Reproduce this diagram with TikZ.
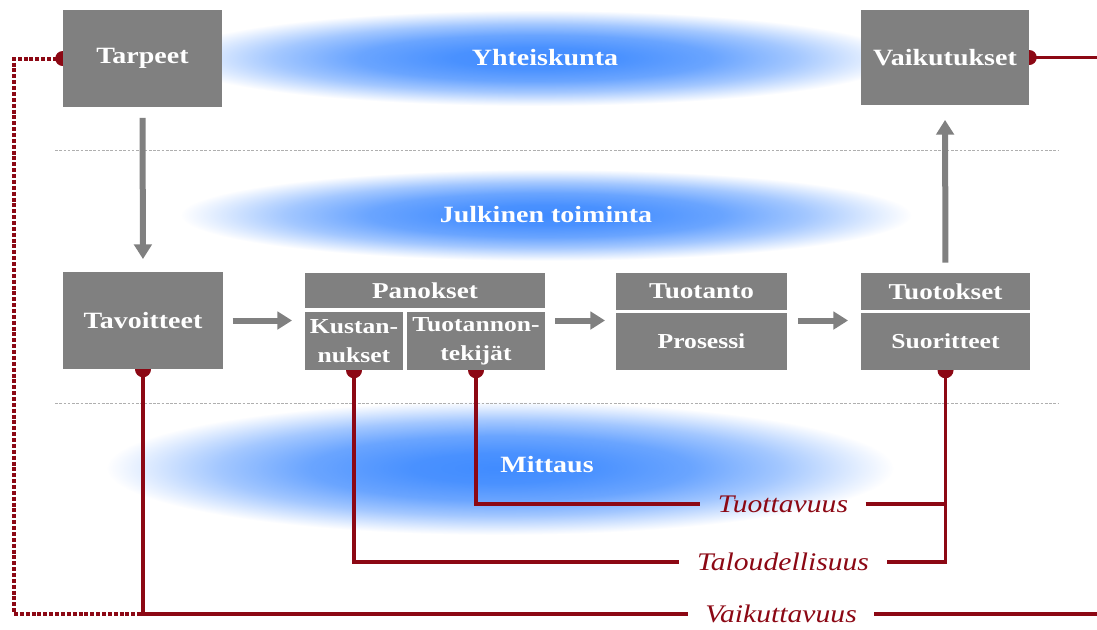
\documentclass[tikz,border=0pt]{standalone}
\usepackage{fontspec}
\setmainfont{Liberation Serif}
\usepackage{graphicx}
\usetikzlibrary{fit,arrows.meta,fadings}
\definecolor{boxgray}{RGB}{128,128,128}
\definecolor{dred}{RGB}{140,8,20}
\definecolor{glow}{RGB}{65,140,255}
\definecolor{sepgray}{RGB}{175,175,175}
\pgfdeclareradialshading{glowmaskshade}{\pgfpointorigin}{color(0bp)=(pgftransparent!0); color(4bp)=(pgftransparent!5); color(8.5bp)=(pgftransparent!22); color(12.5bp)=(pgftransparent!52); color(16bp)=(pgftransparent!86); color(17.5bp)=(pgftransparent!100); color(50bp)=(pgftransparent!100)}
\pgfdeclarefading{glowfade}{\pgfuseshading{glowmaskshade}}
\newcommand{\sx}[1]{\scalebox{1.2}[1]{#1}}
\newcommand{\si}[1]{\scalebox{1.17}[1]{#1}}
\begin{document}
\begin{tikzpicture}[x=0.75pt,y=-0.75pt,
  box/.style={fill=boxgray, draw=none, inner sep=0pt, text=white, align=center,
    font=\bfseries\fontsize{17.5}{19}\selectfont},
  headbox/.style={box, font=\bfseries\fontsize{17}{19}\selectfont},
  subbox/.style={box, font=\bfseries\fontsize{16}{18.5}\selectfont},
  zone/.style={text=white, font=\bfseries\fontsize{17.5}{19}\selectfont},
  meas/.style={text=dred, inner xsep=13pt, inner ysep=2pt, font=\itshape\fontsize{19}{21}\selectfont},
  garrow/.style={draw=boxgray, line width=4.5pt, -{Triangle[length=11pt,width=13pt]}},
  redline/.style={draw=dred, line width=2.4pt},
  dotline/.style={draw=dred, line width=3pt, dash pattern=on 3pt off 1.4pt},
  sep/.style={draw=sepgray, line width=0.7pt, dash pattern=on 2pt off 1.2pt},
  marker/.style={fill=dred}
]
\useasboundingbox (0,0) rectangle (1097,629);
\fill[white] (0,0) rectangle (1097,629);

% blue glows
\fill[glow, path fading=glowfade] (535,58) ellipse [x radius=520, y radius=68];
\fill[glow, path fading=glowfade] (546,215) ellipse [x radius=520, y radius=65];
\fill[glow, path fading=glowfade] (500,468) ellipse [x radius=560, y radius=95];

% separators
\draw[sep] (55,150) -- (1058,150);
\draw[sep] (55,403) -- (1058,403);

% zone labels
\node[zone] (yht) at (545,58) {\sx{Yhteiskunta}};
\node[zone] (jul) at (546,215) {\sx{Julkinen toiminta}};
\node[zone] (mit) at (547,465) {\sx{Mittaus}};

% boxes
\node[box, fit={(63,10) (222,107)}] (tarp) {};
\node[box, fit={(861,10) (1029,105)}] (vaik) {};
\node[box, fit={(63,272) (223,369)}] (tav) {};
\node[headbox, fit={(305,273) (545,308)}] (pan) {};
\node[subbox, fit={(305,312) (403,370)}] (kust) {};
\node[subbox, fit={(407,312) (545,370)}] (ttek) {};
\node[headbox, fit={(616,273) (787,310)}] (tuot) {};
\node[subbox, fit={(616,313) (787,370)}] (pros) {};
\node[headbox, fit={(861,273) (1030,310)}] (tuok) {};
\node[subbox, fit={(861,313) (1030,370)}] (suor) {};

% measurement labels
\node[meas] (tuotv) at (783,504) {\si{Tuottavuus}};
\node[meas] (talo) at (783,562) {\si{Taloudellisuus}};
\node[meas] (vaikt) at (781,614) {\si{Vaikuttavuus}};

\coordinate (lcorner) at (14,614);
\coordinate (redgetop) at (1097,57.5);
\coordinate (redgebot) at (1097,614);

% red connectors
\draw[dotline] (tarp.west) -| (lcorner) -- (vaikt.west);
\draw[redline] (tav.south) |- (vaikt.west);
\draw[redline] (kust.south) |- (talo.west);
\draw[redline] (ttek.south) |- (tuotv.west);
\draw[redline] (suor.south) |- (talo.east);
\draw[redline] (tuotv.east) -- (tuotv.east -| suor.south);
\draw[redline] (vaik.east) -- (redgetop);
\draw[redline] (vaikt.east) -- (redgebot);

% markers (half hidden under boxes)
\fill[marker] (tarp.west) circle [radius=7.5];
\fill[marker] (vaik.east) circle [radius=7.5];
\fill[marker] (tav.south) circle [radius=8];
\fill[marker] (kust.south) circle [radius=8];
\fill[marker] (ttek.south) circle [radius=8];
\fill[marker] (suor.south) circle [radius=8];

% redraw boxes on top of markers
\foreach \n in {tarp,vaik,tav,pan,kust,ttek,tuot,pros,tuok,suor}
  \fill[boxgray] (\n.north west) rectangle (\n.south east);

% box texts
\node[box, fill=none] at (tarp) {\sx{Tarpeet}};
\node[box, fill=none] at (vaik) {\sx{Vaikutukset}};
\node[box, fill=none] at (tav) {\sx{Tavoitteet}};
\node[headbox, fill=none] at (pan) {\sx{Panokset}};
\node[subbox, fill=none] at (kust) {\sx{Kustan-}\\[3pt]\sx{nukset}};
\node[subbox, fill=none] at (ttek) {\sx{Tuotannon-}\\[3pt]\sx{tekijät}};
\node[headbox, fill=none] at (tuot) {\sx{Tuotanto}};
\node[subbox, fill=none] at (pros) {\sx{Prosessi}};
\node[headbox, fill=none] at (tuok) {\sx{Tuotokset}};
\node[subbox, fill=none] at (suor) {\sx{Suoritteet}};

% gray arrows
\draw[garrow, shorten <=8pt, shorten >=9.5pt] (tarp.south) -- (tav.north);
\draw[garrow, shorten <=7pt, shorten >=9.5pt] (tav.east) -- (tav.east -| kust.west);
\draw[garrow, shorten <=7.5pt, shorten >=8pt] (ttek.east |- tav.east) -- (pros.west |- tav.east);
\draw[garrow, shorten <=8pt, shorten >=9.5pt] (pros.east |- tav.east) -- (suor.west |- tav.east);
\draw[garrow, shorten <=7.5pt, shorten >=11pt] (tuok.north) -- (vaik.south);
\end{tikzpicture}
\end{document}
